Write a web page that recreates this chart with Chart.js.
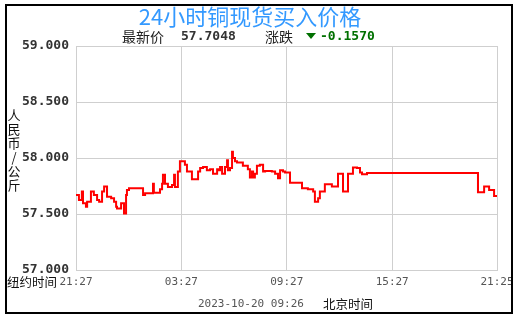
<!DOCTYPE html>
<html>
<head>
<meta charset="utf-8">
<script src="https://cdn.jsdelivr.net/npm/chart.js@4"></script>
<style>
  html, body { margin: 0; padding: 0; background: #fff; }
  #wrap { width: 522px; height: 320px; }
</style>
</head>
<body>
<div id="wrap"><canvas id="chart" width="522" height="320"></canvas></div>
<script>
// minutes after 21:27 (New York time) and copper price, RMB/kg
const minutes = [
  0, 10, 20, 24, 34, 38, 51, 61, 72, 79, 89, 96, 106, 120, 130, 137, 140, 154, 164, 171,
  174, 181, 229, 236, 263, 266, 287, 294, 297, 304, 314, 328, 335, 338, 348, 355, 372, 379,
  396, 417, 424, 434, 447, 458, 468, 482, 485, 492, 499, 509, 516, 519, 526, 533, 536, 543,
  550, 570, 587, 594, 601, 605, 611, 618, 628, 639, 646, 669, 680, 690, 697, 707, 714, 731,
  772, 792, 810, 816, 827, 833, 850, 874, 895, 912, 929, 946, 960, 970, 977, 994, 1373,
  1394, 1411, 1428, 1438
];
const prices = [
  57.67, 57.625, 57.70, 57.595, 57.565, 57.61, 57.70, 57.67, 57.625, 57.61, 57.70, 57.745,
  57.655, 57.64, 57.61, 57.565, 57.55, 57.595, 57.505, 57.67, 57.715, 57.73, 57.67, 57.685,
  57.77, 57.69, 57.72, 57.77, 57.85, 57.77, 57.74, 57.76, 57.85, 57.74, 57.88, 57.97, 57.94,
  57.88, 57.81, 57.88, 57.91, 57.92, 57.89, 57.90, 57.86, 57.90, 57.89, 57.92, 57.86, 57.92,
  57.98, 57.89, 57.91, 58.055, 58.00, 57.97, 57.96, 57.93, 57.90, 57.825, 57.88, 57.825,
  57.86, 57.93, 57.94, 57.88, 57.885, 57.88, 57.86, 57.82, 57.89, 57.88, 57.87, 57.78,
  57.73, 57.72, 57.70, 57.61, 57.64, 57.70, 57.765, 57.745, 57.86, 57.70, 57.86, 57.915,
  57.91, 57.87, 57.855, 57.865, 57.695, 57.745, 57.715, 57.66, 57.66
];
const xTickMinutes = [0, 360, 720, 1080, 1438];
const xTickLabels = ["21:27", "03:27", "09:27", "15:27", "21:25"];
const yMin = 57;
const yMax = 59;
const yStep = 0.5;

const titleText = "24小时铜现货买入价格";
const lastPrice = "57.7048";
const change = "-0.1570";
const yTitle = "人民币/公斤";
const stampText = "2023-10-20 09:26";

const CJK = '"Noto Sans CJK SC", sans-serif';
const MONO = '"DejaVu Sans Mono", monospace';

const decorations = {
  id: "decorations",
  beforeDraw(chart) {
    const ctx = chart.ctx;
    ctx.save();
    ctx.fillStyle = "#fff";
    ctx.fillRect(0, 0, chart.width, chart.height);
    ctx.restore();
  },
  afterDraw(chart) {
    const ctx = chart.ctx;
    ctx.save();
    ctx.textBaseline = "middle";

    // title
    ctx.font = "22px " + CJK;
    ctx.fillStyle = "#3399ff";
    ctx.textAlign = "center";
    ctx.fillText(titleText, 250, 17);

    // latest price / change line
    ctx.textAlign = "left";
    ctx.fillStyle = "#222";
    ctx.font = "14px " + CJK;
    ctx.fillText("最新价", 122, 37);
    ctx.fillText("涨跌", 265, 37);
    ctx.font = "bold 13px " + MONO;
    ctx.fillStyle = "#333";
    ctx.fillText(lastPrice, 181, 37);
    ctx.fillStyle = "#007000";
    ctx.fillText(change, 320, 37);
    ctx.beginPath();
    ctx.moveTo(306, 33);
    ctx.lineTo(316, 33);
    ctx.lineTo(311, 39);
    ctx.closePath();
    ctx.fill();

    // vertical y-axis title, one character per row
    ctx.fillStyle = "#111";
    ctx.font = "13px " + CJK;
    ctx.textAlign = "center";
    [...yTitle].forEach((ch, i) => ctx.fillText(ch, 14, 115 + i * 14));

    // x-axis prefix and footer
    ctx.textAlign = "left";
    ctx.font = "12.5px " + CJK;
    ctx.fillText("纽约时间", 7, 282);
    ctx.fillText("北京时间", 323, 304);
    ctx.font = "11px " + MONO;
    ctx.fillStyle = "#555";
    ctx.fillText(stampText, 198, 304);

    // outer frame
    ctx.strokeStyle = "#000";
    ctx.lineWidth = 2;
    ctx.strokeRect(6, 5, 506, 308);
    ctx.restore();
  }
};

new Chart(document.getElementById("chart"), {
  type: "line",
  data: {
    datasets: [{
      data: minutes.map((m, i) => ({ x: m, y: prices[i] })),
      stepped: true,
      borderColor: "#ff0000",
      borderWidth: 2,
      pointRadius: 0,
      fill: false
    }]
  },
  options: {
    responsive: false,
    animation: false,
    devicePixelRatio: 1,
    layout: { padding: { top: 46, right: 25, bottom: 30, left: 0 } },
    plugins: { legend: { display: false }, tooltip: { enabled: false } },
    scales: {
      x: {
        type: "linear",
        min: xTickMinutes[0],
        max: xTickMinutes[xTickMinutes.length - 1],
        afterBuildTicks: (scale) => {
          scale.ticks = xTickMinutes.map((v) => ({ value: v }));
        },
        afterFit: (scale) => { scale.height = 20; },
        grid: { color: "#cfcfcf", drawTicks: false },
        border: { color: "#cfcfcf" },
        ticks: {
          padding: 6,
          maxRotation: 0,
          autoSkip: false,
          color: "#555",
          font: { family: "DejaVu Sans Mono", size: 11 },
          callback: (value) => xTickLabels[xTickMinutes.indexOf(value)]
        }
      },
      y: {
        min: yMin,
        max: yMax,
        afterFit: (scale) => { scale.width = 76; },
        grid: { color: "#cfcfcf", drawTicks: false },
        border: { color: "#cfcfcf" },
        ticks: {
          stepSize: yStep,
          padding: 7,
          color: "#333",
          font: { family: "DejaVu Sans Mono", size: 13, weight: "bold" },
          callback: (value) => value.toFixed(3)
        }
      }
    }
  },
  plugins: [decorations]
});
</script>
</body>
</html>
